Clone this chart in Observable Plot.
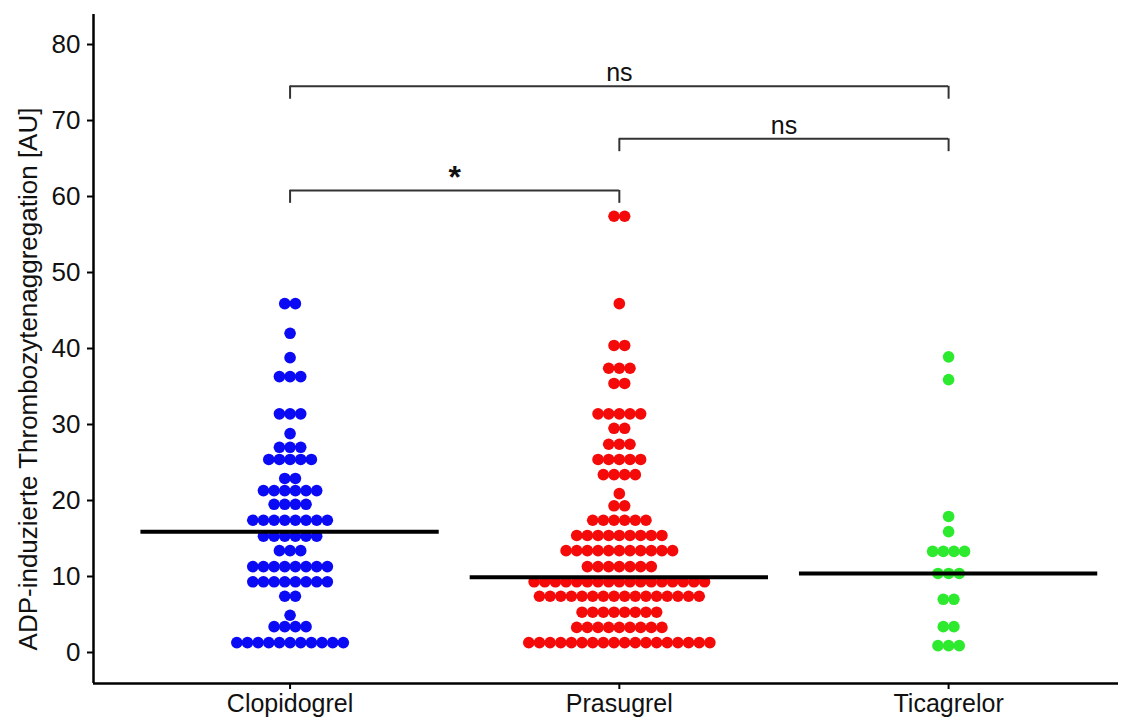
<!DOCTYPE html>
<html>
<head>
<meta charset="utf-8">
<script src="https://cdn.jsdelivr.net/npm/d3@7"></script>
<script src="https://cdn.jsdelivr.net/npm/@observablehq/plot@0.6"></script>
<style>
  html, body { margin: 0; padding: 0; background: #fff; }
</style>
</head>
<body>
<script>
// ---- data ----
const groups = ["Clopidogrel", "Prasugrel", "Ticagrelor"];
const groupColors = ["#0a0af5", "#f50a0a", "#2eea2e"];

const clopidogrelLevels = [45.9, 42, 38.8, 36.3, 31.4, 28.8, 27, 25.4, 22.9, 21.3, 19.5, 17.4, 15.3, 13.4, 11.3, 9.3, 7.4, 4.9, 3.4, 1.3];
const clopidogrelCounts = [2, 1, 1, 3, 3, 1, 3, 5, 2, 6, 4, 8, 6, 3, 8, 8, 2, 1, 4, 11];

const prasugrelLevels = [57.4, 45.9, 40.4, 37.4, 35.4, 31.4, 29.5, 27.4, 25.4, 23.4, 20.9, 19.3, 17.4, 15.4, 13.4, 11.3, 9.3, 7.4, 5.3, 3.3, 1.3];
const prasugrelCounts = [2, 1, 2, 3, 2, 5, 2, 3, 5, 4, 1, 2, 6, 9, 11, 7, 17, 16, 8, 9, 18];

const ticagrelorLevels = [38.9, 35.9, 17.9, 15.9, 13.3, 10.4, 7.0, 3.4, 0.9];
const ticagrelorCounts = [1, 1, 1, 1, 4, 3, 2, 2, 3];

const medians = [15.9, 9.9, 10.4];

const yTicks = [0, 10, 20, 30, 40, 50, 60, 70, 80];
const yLabel = "ADP-induzierte Thrombozytenaggregation [AU]";

const bracketFrom = [1, 2, 1];
const bracketTo = [3, 3, 2];
const bracketLevel = [74.5, 67.6, 60.8];
const bracketLabel = ["ns", "ns", "*"];

// ---- build tables ----
const levelSets = [clopidogrelLevels, prasugrelLevels, ticagrelorLevels];
const countSets = [clopidogrelCounts, prasugrelCounts, ticagrelorCounts];
const dotStep = 0.03235; // horizontal spacing between dots in a row (x units)

const points = [];
levelSets.forEach((levels, gi) => {
  levels.forEach((v, li) => {
    const n = countSets[gi][li];
    for (let k = 0; k < n; k++) {
      points.push({group: groups[gi], gx: gi + 1, value: v, off: (k - (n - 1) / 2) * dotStep});
    }
  });
});

const medianRows = medians.map((m, i) => ({gx: i + 1, value: m}));
const brackets = bracketLevel.map((lv, i) => ({from: bracketFrom[i], to: bracketTo[i], level: lv, label: bracketLabel[i]}));
const bracketEnds = brackets.flatMap(b => [{x: b.from, level: b.level}, {x: b.to, level: b.level}]);
const nsBrackets = brackets.filter(b => b.label !== "*");
const starBrackets = brackets.filter(b => b.label === "*");

const xDomain = [0.403, 3.516];
const yDomain = [-4.08, 83.95];
const tickDrop = 1.7;
const font = "'Liberation Sans', Arial, Helvetica, sans-serif";

const chart = Plot.plot({
  width: 1132,
  height: 720,
  marginLeft: 93,
  marginRight: 14,
  marginTop: 14,
  marginBottom: 37,
  x: {domain: xDomain},
  y: {domain: yDomain},
  color: {domain: groups, range: groupColors},
  style: {fontFamily: font, fontSize: "25px", color: "#000", background: "#fff", overflow: "visible"},
  marks: [
    Plot.axisY({ticks: yTicks, tickSize: 6, tickPadding: 7, strokeWidth: 2, label: null, fill: "#111", fontSize: 26}),
    Plot.axisX({ticks: [1, 2, 3], tickFormat: i => groups[i - 1], tickSize: 6, tickPadding: 5, strokeWidth: 2, label: null, fill: "#111", fontSize: 25}),
    Plot.ruleX([xDomain[0]], {stroke: "#000", strokeWidth: 2.5}),
    Plot.ruleY([yDomain[0]], {stroke: "#000", strokeWidth: 2.5}),
    Plot.dot(points, {x: d => d.gx + d.off, y: "value", r: 5.8, fill: "group", stroke: null}),
    Plot.ruleY(medianRows, {y: "value", x1: d => d.gx - 0.453, x2: d => d.gx + 0.453, stroke: "#000", strokeWidth: 4}),
    Plot.ruleY(brackets, {y: "level", x1: "from", x2: "to", stroke: "#333", strokeWidth: 2}),
    Plot.ruleX(bracketEnds, {x: "x", y1: "level", y2: d => d.level - tickDrop, stroke: "#333", strokeWidth: 2}),
    Plot.text(nsBrackets, {x: d => (d.from + d.to) / 2, y: "level", text: "label", lineAnchor: "bottom", dy: -5, fontSize: 25, fill: "#111"}),
    Plot.text(starBrackets, {x: d => (d.from + d.to) / 2, y: "level", text: "label", lineAnchor: "bottom", dy: -2, fontSize: 32, fontWeight: "bold", fill: "#111"}),
    Plot.text([yLabel], {frameAnchor: "left", rotate: -90, dx: -65, dy: 30, fontSize: 26, fill: "#111", textAnchor: "middle"})
  ]
});
document.body.appendChild(chart);
</script>
</body>
</html>
